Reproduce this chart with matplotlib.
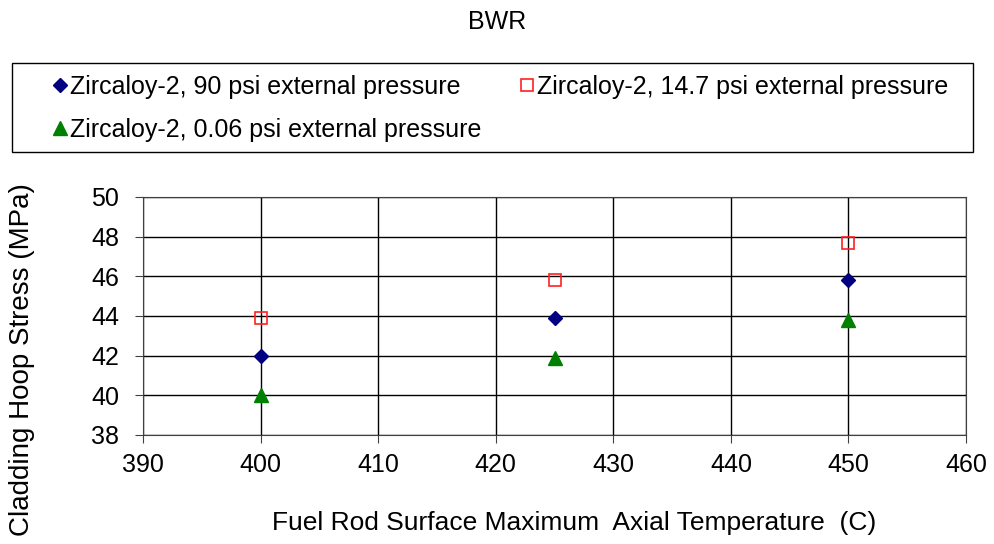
import matplotlib.pyplot as plt
from matplotlib.patches import Rectangle

# Donnees
temperatures = [400, 425, 450]
stress_90psi = [42.0, 43.9, 45.8]
stress_14psi = [43.9, 45.8, 47.7]
stress_006psi = [40.0, 41.9, 43.8]

plt.rcParams['font.family'] = ['Liberation Sans', 'DejaVu Sans']

fig = plt.figure(figsize=(9.95, 5.44), dpi=100)
ax = fig.add_axes([0.1437, 0.2004, 0.8272, 0.4375])

h1, = ax.plot(temperatures, stress_90psi, linestyle='none', marker='D', markersize=7.5,
              color='#000080', label='Zircaloy-2, 90 psi external pressure')
h2, = ax.plot(temperatures, stress_14psi, linestyle='none', marker='s', markersize=9,
              markerfacecolor='none', markeredgecolor='#ff2020', markeredgewidth=1.2,
              label='Zircaloy-2, 14.7 psi external pressure')
h3, = ax.plot(temperatures, stress_006psi, linestyle='none', marker='^', markersize=10,
              color='#008000', label='Zircaloy-2, 0.06 psi external pressure')

ax.set_xlim(390, 460)
ax.set_ylim(38, 50)
ax.set_xticks(range(390, 461, 10))
ax.set_yticks(range(38, 51, 2))
ax.grid(True, color='black', linewidth=1)
ax.set_axisbelow(True)
ax.tick_params(axis='both', labelsize=18, direction='out', length=6, color='#404040')
ax.tick_params(axis='y', pad=11)
ax.tick_params(axis='x', pad=7)
for s in ax.spines.values():
    s.set_color('#404040')

xl = ax.set_xlabel("Fuel Rod Surface Maximum  Axial Temperature  (C)", fontsize=19)
xl.set_va('center')
ax.xaxis.set_label_coords(0.524, -0.37)
yl = ax.set_ylabel("Cladding Hoop Stress (MPa)", fontsize=20)
yl.set_va('center')
ax.yaxis.set_label_coords(-0.147, 0.315)

fig.text(0.5, 0.96, "BWR", ha='center', va='center', fontsize=18)

# cadre de la legende
fig.patches.append(Rectangle((12 / 995, 1 - 152 / 544), 961 / 995, 89 / 544,
                             transform=fig.transFigure, facecolor='white',
                             edgecolor='black', linewidth=1))

# ordre pour remplir ligne par ligne
leg = fig.legend([h1, h3, h2], [h1.get_label(), h3.get_label(), h2.get_label()],
                 loc='upper left', bbox_to_anchor=(51 / 995, 1 - 75 / 544),
                 ncol=2, fontsize=18, frameon=False,
                 handletextpad=0.05, handlelength=0.7, borderpad=0, labelspacing=0.75,
                 borderaxespad=0, columnspacing=1.47)

plt.savefig("out.png", dpi=100)
